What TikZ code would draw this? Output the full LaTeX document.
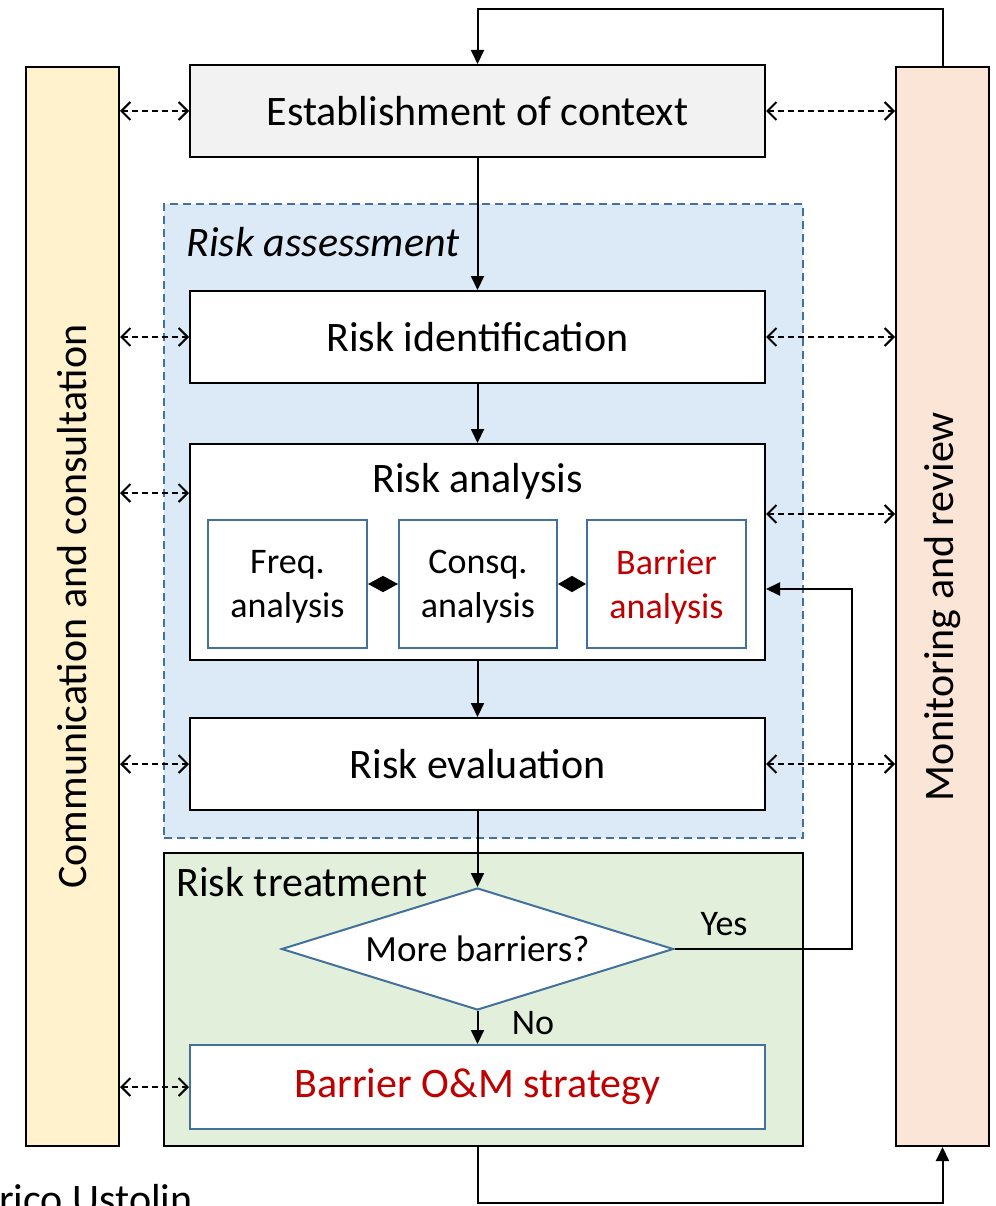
\documentclass[tikz,border=0pt]{standalone}
\usepackage{fontspec}
\setmainfont{Carlito}
\usetikzlibrary{arrows.meta,shapes.geometric}

\definecolor{commfill}{HTML}{FFF2CC}
\definecolor{monfill}{HTML}{FBE5D6}
\definecolor{ctxfill}{HTML}{F2F2F2}
\definecolor{assessfill}{HTML}{DCE9F6}
\definecolor{treatfill}{HTML}{E2EFDA}
\definecolor{bluedge}{HTML}{41719C}
\definecolor{redtext}{HTML}{C00000}

\tikzset{
  big/.style={font=\fontsize{42}{50}\selectfont},
  small/.style={font=\fontsize{36}{44}\selectfont},
  box/.style={draw=black, line width=2pt, fill=white, minimum width=575pt, minimum height=92pt, inner sep=0pt, big},
  subbox/.style={draw=bluedge, line width=2pt, fill=white, minimum width=159pt, minimum height=128pt, inner sep=0pt, align=center, small},
  bar/.style={draw=black, line width=2pt, minimum width=93pt, minimum height=1079pt, inner sep=0pt},
  region/.style={minimum width=639pt, inner sep=0pt},
  flow/.style={-{Triangle[length=14pt,width=13pt]}, line width=2pt},
  link/.style={{Straight Barb[length=9pt,width=18pt]}-{Straight Barb[length=9pt,width=18pt]}, line width=2pt, dash pattern=on 6pt off 4pt},
  pair/.style={{Triangle[length=14pt,width=16pt]}-{Triangle[length=14pt,width=16pt]}, line width=1.2pt},
}

\begin{document}
\begin{tikzpicture}[x=1pt,y=-1pt]
\path[use as bounding box] (0,0) rectangle (995,1206);

% side bars
\node[bar, fill=commfill] (comm) at (72.5,606.5) {};
\node[big, rotate=90] (commlbl) at (comm.center) {Communication and consultation};
\node[bar, fill=monfill] (mon) at (942.5,606.5) {};
\node[big, rotate=90] (monlbl) at (mon.center) {Monitoring and review};

% grouping regions
\node[region, minimum height=634pt, fill=assessfill, draw=bluedge, line width=2pt, dash pattern=on 8pt off 5pt] (assess) at (483.5,521) {};
\node[big, font=\fontsize{42}{50}\selectfont\itshape, anchor=west] (assesslbl) at (183,242) {Risk assessment};
\node[region, minimum height=293pt, fill=treatfill, draw=black, line width=2pt] (treat) at (483.5,999.5) {};
\node[big, anchor=west] (treatlbl) at (173,882) {Risk treatment};

% process boxes
\node[box, fill=ctxfill] (ctx) at (477.5,111) {Establishment of context};
\node[box] (rid) at (477.5,337) {Risk identification};
\node[box, minimum height=216pt] (ran) at (477.5,552) {};
\node[big] (ranlbl) at (477.5,481) {Risk analysis};
\node[subbox, text depth=-4pt] (freq) at (287.5,584) {Freq.\\analysis};
\node[subbox, text depth=-4pt, minimum width=158pt] (consq) at (478,584) {Consq.\\analysis};
\node[subbox, text depth=-4pt, text=redtext] (barr) at (666.5,584) {Barrier\\analysis};
\node[box] (rev) at (477.5,764) {Risk evaluation};
\node[diamond, draw=bluedge, line width=2pt, fill=white, minimum width=392pt, minimum height=122pt, inner sep=0pt, aspect=3.2, font=\fontsize{37}{44}\selectfont] (dec) at (477.5,949) {More barriers?};
\node[box, draw=bluedge, minimum height=84pt, text=redtext] (om) at (477.5,1087) {Barrier O\&M strategy};

% main flow
\draw[flow] (ctx) -- (rid);
\draw[flow] (rid) -- (ran);
\draw[flow] (ran) -- (rev);
\draw[flow] (rev.south) -- (dec.north);
\draw[flow] (dec.south) -- (om.north);
\node[small] (nolbl) at (533,1023) {No};

% feedback from the decision
\coordinate (yturn) at (852,589);
\draw[flow] (dec.east) -| (yturn) -- (yturn -| ran.east);
\node[small] (yeslbl) at (724,924) {Yes};

% monitoring loops
\coordinate (topy) at (0,9);
\draw[flow] (mon.north) |- (topy -| ctx.north) -- (ctx.north);
\coordinate (boty) at (0,1203);
\coordinate (botstart) at (om.south |- treat.south);
\draw[flow] (botstart) |- (boty -| mon.south) -- (mon.south);

% links between analysis parts
\draw[pair, {Triangle[length=15pt,width=16pt]}-{Triangle[length=15pt,width=16pt]}] (freq.east) -- (consq.west);
\draw[pair] (consq.east) -- (barr.west);

% communication links
\draw[link] (comm.east |- ctx.west) -- (ctx.west);
\draw[link] (comm.east |- rid.west) -- (rid.west);
\draw[link] ([yshift=59pt]ran.west -| comm.east) -- ([yshift=59pt]ran.west);
\draw[link] (comm.east |- rev.west) -- (rev.west);
\draw[link] (comm.east |- om.west) -- (om.west);

% monitoring links
\draw[link] (ctx.east) -- (ctx.east -| mon.west);
\draw[link] (rid.east) -- (rid.east -| mon.west);
\draw[link] ([yshift=38pt]ran.east) -- ([yshift=38pt]ran.east -| mon.west);
\draw[link] (rev.east) -- (rev.east -| mon.west);

% author credit along the lower edge
\node[big, anchor=base west, inner sep=0pt] (credit) at (-1,1213) {rico Ustolin};
\end{tikzpicture}
\end{document}
